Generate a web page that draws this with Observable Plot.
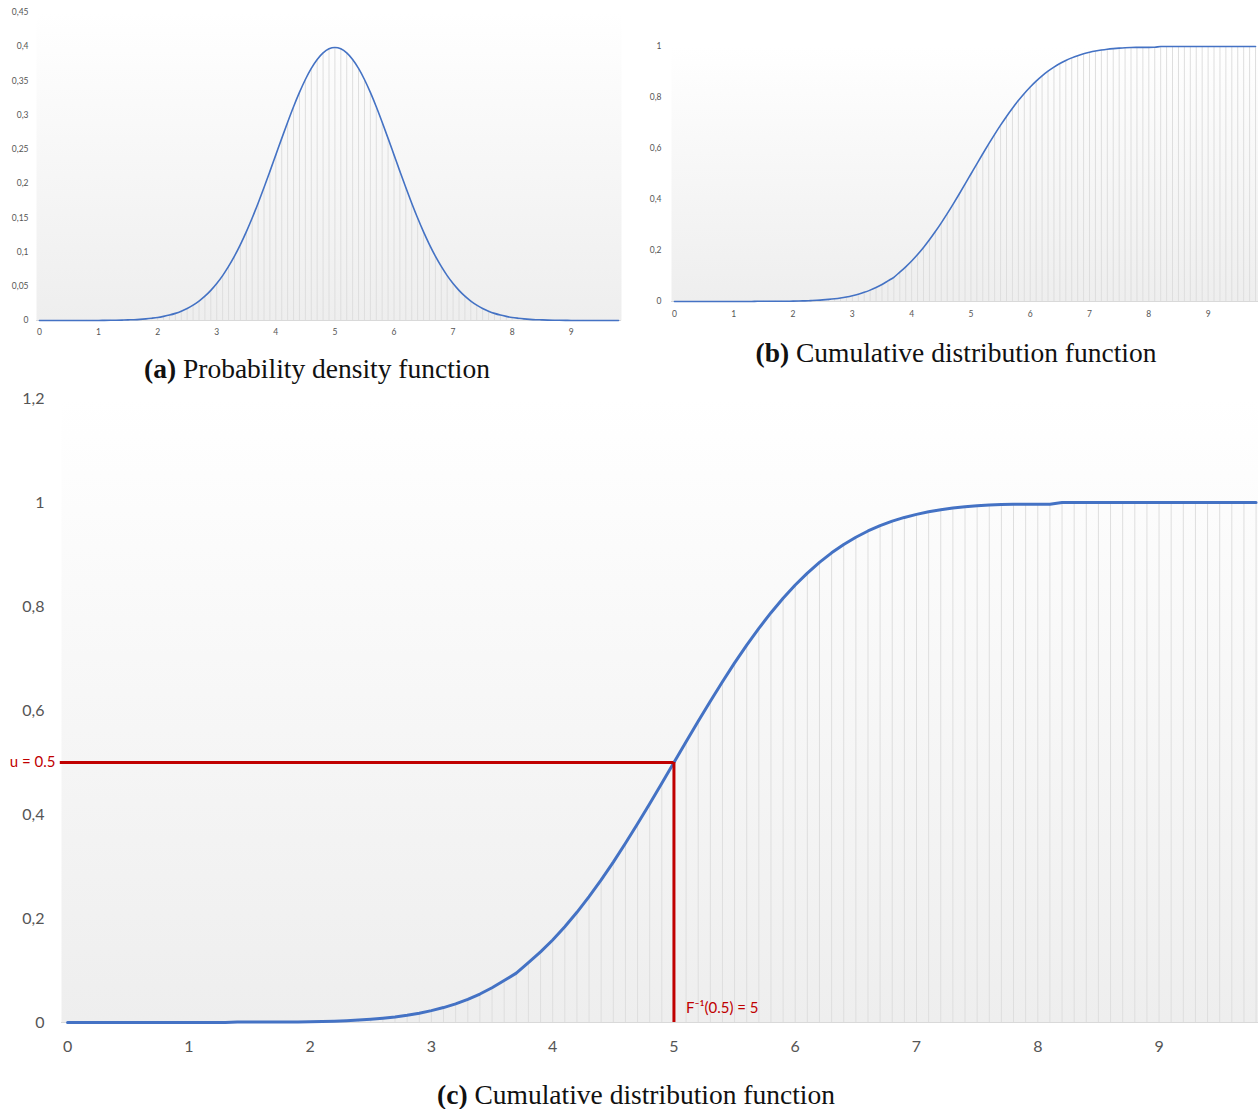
<!DOCTYPE html>
<html>
<head>
<meta charset="utf-8">
<script src="https://cdn.jsdelivr.net/npm/d3@7"></script>
<script src="https://cdn.jsdelivr.net/npm/@observablehq/plot@0.6"></script>
<style>
  html, body { margin: 0; padding: 0; background: #fff; }
  #root { position: relative; width: 1258px; height: 1109px; overflow: hidden; }
  .panel { position: absolute; }
  .cap { position: absolute; font-family: "Liberation Serif", "Times New Roman", serif; font-size: 27.5px; color: #111; white-space: nowrap; transform: translate(-50%, -50%); }
  .cap b { font-weight: bold; }
</style>
</head>
<body>
<div id="root">
  <div class="panel" id="pa" style="left:0;top:0"></div>
  <div class="panel" id="pb" style="left:630px;top:0"></div>
  <div class="panel" id="pc" style="left:0;top:385px"></div>
  <div class="cap" style="left:317px;top:369px"><b>(a)</b> Probability density function</div>
  <div class="cap" style="left:956px;top:353px"><b>(b)</b> Cumulative distribution function</div>
  <div class="cap" style="left:636px;top:1095px"><b>(c)</b> Cumulative distribution function</div>
</div>
<script>
// categories (x values, step 0.1)
const xs = [0,0.1,0.2,0.3,0.4,0.5,0.6,0.7,0.8,0.9,
  1,1.1,1.2,1.3,1.4,1.5,1.6,1.7,1.8,1.9,
  2,2.1,2.2,2.3,2.4,2.5,2.6,2.7,2.8,2.9,
  3,3.1,3.2,3.3,3.4,3.5,3.6,3.7,3.8,3.9,
  4,4.1,4.2,4.3,4.4,4.5,4.6,4.7,4.8,4.9,
  5,5.1,5.2,5.3,5.4,5.5,5.6,5.7,5.8,5.9,
  6,6.1,6.2,6.3,6.4,6.5,6.6,6.7,6.8,6.9,
  7,7.1,7.2,7.3,7.4,7.5,7.6,7.7,7.8,7.9,
  8,8.1,8.2,8.3,8.4,8.5,8.6,8.7,8.8,8.9,
  9,9.1,9.2,9.3,9.4,9.5,9.6,9.7,9.8];

// probability density values
const pdfValues = [0,0,0,0,0,0,0,0,0.0001,0.0001,
  0.0001,0.0002,0.0003,0.0004,0.0006,0.0009,0.0012,0.0017,0.0024,0.0033,
  0.0044,0.0060,0.0079,0.0104,0.0136,0.0175,0.0224,0.0283,0.0355,0.0440,
  0.0540,0.0656,0.0790,0.0940,0.1109,0.1295,0.1497,0.1714,0.1942,0.2179,
  0.2420,0.2661,0.2897,0.3123,0.3332,0.3521,0.3683,0.3814,0.3910,0.3970,
  0.3989,0.3970,0.3910,0.3814,0.3683,0.3521,0.3332,0.3123,0.2897,0.2661,
  0.2420,0.2179,0.1942,0.1714,0.1497,0.1295,0.1109,0.0940,0.0790,0.0656,
  0.0540,0.0440,0.0355,0.0283,0.0224,0.0175,0.0136,0.0104,0.0079,0.0060,
  0.0044,0.0033,0.0024,0.0017,0.0012,0.0009,0.0006,0.0004,0.0003,0.0002,
  0.0001,0.0001,0.0001,0,0,0,0,0,0];

// cumulative distribution values
const cdfValues = [0,0,0,0,0,0,0,0,0,0,
  0,0,0,0,0.0008,0.0008,0.0008,0.0009,0.0010,0.0011,
  0.0013,0.0019,0.0026,0.0035,0.0047,0.0062,0.0082,0.0107,0.0139,0.0179,
  0.0228,0.0287,0.0359,0.0446,0.0548,0.0668,0.0808,0.0950,0.1151,0.1357,
  0.1587,0.1841,0.2119,0.2420,0.2743,0.3085,0.3446,0.3821,0.4207,0.4602,
  0.5000,0.5398,0.5793,0.6179,0.6554,0.6915,0.7257,0.7580,0.7881,0.8159,
  0.8413,0.8643,0.8849,0.9032,0.9192,0.9332,0.9452,0.9554,0.9641,0.9713,
  0.9772,0.9821,0.9861,0.9893,0.9918,0.9938,0.9953,0.9962,0.9965,0.9966,
  0.9967,0.9968,1,1,1,1,1,1,1,1,
  1,1,1,1,1,1,1,1,1];

// tick labels
const xTicks = [0,1,2,3,4,5,6,7,8,9];
const pdfTicks = [0,0.05,0.1,0.15,0.2,0.25,0.3,0.35,0.4,0.45];
const cdfTicksB = [0,0.2,0.4,0.6,0.8,1];
const cdfTicksC = [0,0.2,0.4,0.6,0.8,1,1.2];

// inverse-transform annotation
const uValue = 0.5;
const xInverse = 5;
const uLabel = "u = 0.5";
const invLabel = "F\u207B\u00B9(0.5) = 5";

const pdfData = xs.map((x, i) => ({x, y: pdfValues[i]}));
const cdfData = xs.map((x, i) => ({x, y: cdfValues[i]}));

const comma = d => String(d).replace(".", ",");
const BLUE = "#4472C4";
const RED = "#C00000";
const DROP = "#dedede";

function addGradient(svg, id) {
  const ns = "http://www.w3.org/2000/svg";
  const defs = document.createElementNS(ns, "defs");
  const g = document.createElementNS(ns, "linearGradient");
  g.setAttribute("id", id);
  g.setAttribute("x1", "0"); g.setAttribute("y1", "0");
  g.setAttribute("x2", "0"); g.setAttribute("y2", "1");
  [["0%", "#ffffff"], ["12%", "#fdfdfd"], ["100%", "#eeeeee"]].forEach(([o, c]) => {
    const s = document.createElementNS(ns, "stop");
    s.setAttribute("offset", o); s.setAttribute("stop-color", c);
    g.appendChild(s);
  });
  defs.appendChild(g);
  svg.insertBefore(defs, svg.firstChild);
  return svg;
}

// (a) PDF
const plotA = Plot.plot({
  width: 630, height: 345,
  marginLeft: 36, marginRight: 9, marginTop: 12, marginBottom: 25,
  style: {fontFamily: "Lato, 'Open Sans', sans-serif", fontSize: "8.5px", color: "#555555", background: "transparent"},
  x: {domain: [-0.05, 9.85], ticks: xTicks, tickFormat: d => String(d), tickSize: 0, tickPadding: 8, label: null},
  y: {domain: [0, 0.45], ticks: pdfTicks, tickFormat: comma, tickSize: 0, tickPadding: 8, label: null},
  marks: [
    Plot.frame({fill: "url(#gradA)", stroke: "none"}),
    Plot.ruleY([0], {stroke: "#d9d9d9", strokeWidth: 1}),
    Plot.ruleX(pdfData, {x: "x", y1: 0, y2: "y", stroke: DROP, strokeWidth: 1}),
    Plot.line(pdfData, {x: "x", y: "y", stroke: BLUE, strokeWidth: 1.6, curve: "monotone-x"})
  ]
});
document.getElementById("pa").appendChild(addGradient(plotA, "gradA"));

// (b) CDF small
const plotB = Plot.plot({
  width: 628, height: 326,
  marginLeft: 41, marginRight: 0, marginTop: 46, marginBottom: 25,
  style: {fontFamily: "Lato, 'Open Sans', sans-serif", fontSize: "8.5px", color: "#555555", background: "transparent"},
  x: {domain: [-0.05, 9.85], ticks: xTicks, tickFormat: d => String(d), tickSize: 0, tickPadding: 9, label: null},
  y: {domain: [0, 1], ticks: cdfTicksB, tickFormat: comma, tickSize: 0, tickPadding: 10, label: null},
  marks: [
    Plot.frame({fill: "url(#gradB)", stroke: "none"}),
    Plot.ruleY([0], {stroke: "#d9d9d9", strokeWidth: 1}),
    Plot.ruleX(cdfData, {x: "x", y1: 0, y2: "y", stroke: DROP, strokeWidth: 1}),
    Plot.line(cdfData, {x: "x", y: "y", stroke: BLUE, strokeWidth: 1.6, curve: "monotone-x"})
  ]
});
document.getElementById("pb").appendChild(addGradient(plotB, "gradB"));

// (c) CDF large with inverse-transform annotation
const plotC = Plot.plot({
  width: 1258, height: 677,
  marginLeft: 61, marginRight: 0, marginTop: 13, marginBottom: 40,
  style: {fontFamily: "Lato, 'Open Sans', sans-serif", fontSize: "16px", color: "#555555", background: "transparent"},
  x: {domain: [-0.05, 9.82], ticks: xTicks, tickFormat: d => String(d), tickSize: 0, tickPadding: 18, label: null},
  y: {domain: [0, 1.2], ticks: cdfTicksC, tickFormat: comma, tickSize: 0, tickPadding: 17, label: null},
  marks: [
    Plot.frame({fill: "url(#gradC)", stroke: "none"}),
    Plot.ruleY([0], {stroke: "#d9d9d9", strokeWidth: 1}),
    Plot.ruleX(cdfData, {x: "x", y1: 0, y2: "y", stroke: DROP, strokeWidth: 1}),
    Plot.line(cdfData, {x: "x", y: "y", stroke: BLUE, strokeWidth: 3, curve: "linear"}),
    Plot.ruleY([uValue], {x1: -0.06, x2: xInverse, stroke: RED, strokeWidth: 3}),
    Plot.ruleX([xInverse], {y1: 0, y2: uValue, stroke: RED, strokeWidth: 3}),
    Plot.text([uLabel], {x: -0.05, y: uValue, text: d => d, textAnchor: "end", dx: -6, fill: RED, fontSize: 15}),
    Plot.text([invLabel], {x: xInverse, y: 0.027, text: d => d, textAnchor: "start", dx: 12, fill: RED, fontSize: 15})
  ]
});
document.getElementById("pc").appendChild(addGradient(plotC, "gradC"));
</script>
</body>
</html>
